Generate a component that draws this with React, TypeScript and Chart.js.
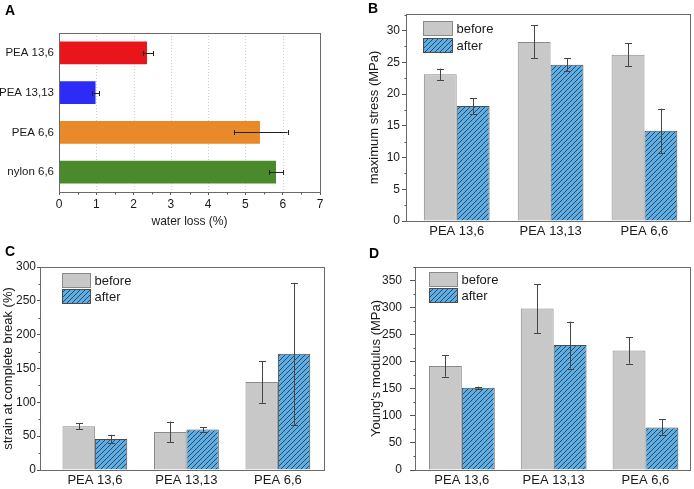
import React, { useEffect, useRef } from 'react';
import { Chart, registerables } from 'chart.js';

Chart.register(...registerables);

const FONT = "'Liberation Sans', Arial, Helvetica, sans-serif";
const TEXT = '#1a1a1a';
const FRAME = '#6a6a6a';
const TICK = '#555555';

// ---- Panel A: water loss ----
const waterLabels = ['PEA 13,6', 'PEA 13,13', 'PEA 6,6', 'nylon 6,6'];
const waterLoss = [2.36, 0.98, 5.39, 5.82];
const waterLow = [2.25, 0.89, 4.69, 5.63];
const waterHigh = [2.52, 1.07, 6.13, 6.02];
const waterColors = ['#e8161b', '#2c2cf6', '#e8892a', '#4b8a2a'];
const waterGridValues = [1, 2, 3, 4, 5, 6];

// ---- Panels B-D: before / after ----
const groups = ['PEA 13,6', 'PEA 13,13', 'PEA 6,6'];
const groupPos = [1, 2, 3];
const seriesNames = ['before', 'after'];

const stressBefore = [23.1, 28.2, 26.2];
const stressBeforeErr = [0.9, 2.6, 1.8];
const stressAfter = [18.1, 24.6, 14.2];
const stressAfterErr = [1.2, 1.0, 3.5];

const strainBefore = [64.6, 56.2, 130.2];
const strainBeforeErr = [4.2, 15.3, 31];
const strainAfter = [45.9, 59.7, 171.7];
const strainAfterErr = [6.1, 3.2, 105];

const modBefore = [192, 298.3, 220.8];
const modBeforeErr = [19.7, 45.2, 24.3];
const modAfter = [151.9, 230.7, 78.7];
const modAfterErr = [2, 43.4, 14.8];

const BEFORE_FILL = '#c8c8c8';
const BEFORE_EDGE = '#8a8a8a';
const HATCH_BG = '#5eaee6';
const HATCH_LINE = '#2a3a4c';
const AFTER_EDGE = '#4a4a4a';

function makeHatch(): CanvasPattern | string {
  const s = 5;
  const c = document.createElement('canvas');
  c.width = s;
  c.height = s;
  const g = c.getContext('2d');
  if (!g) return HATCH_BG;
  g.fillStyle = HATCH_BG;
  g.fillRect(0, 0, s, s);
  g.strokeStyle = HATCH_LINE;
  g.lineWidth = 0.9;
  g.beginPath();
  g.moveTo(0, s);
  g.lineTo(s, 0);
  g.moveTo(-1, 1);
  g.lineTo(1, -1);
  g.moveTo(s - 1, s + 1);
  g.lineTo(s + 1, s - 1);
  g.stroke();
  return g.createPattern(c, 'repeat') || HATCH_BG;
}

type Decor = {
  vgrid?: number[];
  minor?: { axis: 'x' | 'y'; step: number; min: number; max: number; major: number; len: number };
  legend?: { dx: number; dy: number; w: number; h: number; gap: number; font: number };
  errAxis: 'x' | 'y';
  errColor: string;
  cap: number;
};

function makeDecor(d: Decor) {
  return {
    id: 'decor',
    beforeDatasetsDraw(chart: any) {
      if (!d.vgrid) return;
      const { ctx, chartArea: a } = chart;
      const xs = chart.scales.x;
      ctx.save();
      ctx.strokeStyle = 'rgba(205,190,190,0.75)';
      ctx.lineWidth = 1;
      ctx.setLineDash([1, 2]);
      d.vgrid.forEach((v) => {
        const px = Math.round(xs.getPixelForValue(v)) + 0.5;
        ctx.beginPath();
        ctx.moveTo(px, a.top);
        ctx.lineTo(px, a.bottom);
        ctx.stroke();
      });
      ctx.restore();
    },
    afterDatasetsDraw(chart: any) {
      const { ctx, chartArea: a } = chart;
      ctx.save();
      ctx.setLineDash([]);
      // error bars
      chart.data.datasets.forEach((ds: any, di: number) => {
        const meta = chart.getDatasetMeta(di);
        const lo: number[] = ds.errLow;
        const hi: number[] = ds.errHigh;
        if (!lo || !hi) return;
        ctx.strokeStyle = d.errColor;
        ctx.lineWidth = 1;
        meta.data.forEach((el: any, i: number) => {
          if (d.errAxis === 'y') {
            const ys = chart.scales.y;
            const x = Math.round(el.x) + 0.5;
            const y1 = ys.getPixelForValue(lo[i]);
            const y2 = ys.getPixelForValue(hi[i]);
            ctx.beginPath();
            ctx.moveTo(x, y1);
            ctx.lineTo(x, y2);
            ctx.moveTo(x - d.cap, Math.round(y1) + 0.5);
            ctx.lineTo(x + d.cap, Math.round(y1) + 0.5);
            ctx.moveTo(x - d.cap, Math.round(y2) + 0.5);
            ctx.lineTo(x + d.cap, Math.round(y2) + 0.5);
            ctx.stroke();
          } else {
            const xs = chart.scales.x;
            const y = Math.round(el.y) + 0.5;
            const x1 = xs.getPixelForValue(lo[i]);
            const x2 = xs.getPixelForValue(hi[i]);
            ctx.beginPath();
            ctx.moveTo(x1, y);
            ctx.lineTo(x2, y);
            ctx.moveTo(Math.round(x1) + 0.5, y - d.cap);
            ctx.lineTo(Math.round(x1) + 0.5, y + d.cap);
            ctx.moveTo(Math.round(x2) + 0.5, y - d.cap);
            ctx.lineTo(Math.round(x2) + 0.5, y + d.cap);
            ctx.stroke();
          }
        });
      });
      // frame
      const L = Math.round(a.left) + 0.5;
      const T = Math.round(a.top) + 0.5;
      const R = Math.round(a.right) + 0.5;
      const B = Math.round(a.bottom) + 0.5;
      ctx.strokeStyle = FRAME;
      ctx.lineWidth = 1;
      ctx.strokeRect(L, T, R - L, B - T);
      // minor ticks
      if (d.minor) {
        const m = d.minor;
        const sc = chart.scales[m.axis];
        ctx.strokeStyle = TICK;
        ctx.beginPath();
        for (let v = m.min; v <= m.max + 1e-9; v += m.step) {
          const r = v / m.major;
          if (Math.abs(r - Math.round(r)) < 1e-6) continue;
          const p = Math.round(sc.getPixelForValue(v)) + 0.5;
          if (m.axis === 'y') {
            ctx.moveTo(L - m.len, p);
            ctx.lineTo(L, p);
          } else {
            ctx.moveTo(p, B);
            ctx.lineTo(p, B + m.len);
          }
        }
        ctx.stroke();
      }
      // legend
      if (d.legend) {
        const lg = d.legend;
        chart.data.datasets.forEach((ds: any, di: number) => {
          const x = Math.round(a.left + lg.dx) + 0.5;
          const y = Math.round(a.top + lg.dy + di * lg.gap) + 0.5;
          ctx.fillStyle = ds.backgroundColor;
          ctx.fillRect(x, y, lg.w, lg.h);
          ctx.strokeStyle = ds.borderColor;
          ctx.lineWidth = 1;
          ctx.strokeRect(x, y, lg.w, lg.h);
          ctx.fillStyle = TEXT;
          ctx.font = `${lg.font}px ${FONT}`;
          ctx.textBaseline = 'middle';
          ctx.textAlign = 'left';
          ctx.fillText(ds.label, x + lg.w + 4, y + lg.h / 2 + 0.5);
        });
      }
      ctx.restore();
    },
  };
}

type GroupedSpec = {
  yTitle: string;
  before: number[];
  beforeErr: number[];
  after: number[];
  afterErr: number[];
  yMax: number;
  yStep: number;
  minorStep: number;
  xMin: number;
  xMax: number;
  catPct: number;
  pad: { left: number; top: number; right: number; bottom: number };
  yWidth: number;
  xHeight: number;
  tickLen: number;
  tickPad: number;
  titlePadTop: number;
  legend: { dx: number; dy: number; w: number; h: number; gap: number; font: number };
};

function groupedConfig(s: GroupedSpec, hatch: CanvasPattern | string): any {
  const pts = (vals: number[]) => groupPos.map((x, i) => ({ x, y: vals[i] }));
  return {
    type: 'bar',
    data: {
      datasets: [
        {
          label: seriesNames[0],
          data: pts(s.before),
          backgroundColor: BEFORE_FILL,
          borderColor: BEFORE_EDGE,
          borderWidth: 1,
          errLow: s.before.map((v, i) => v - s.beforeErr[i]),
          errHigh: s.before.map((v, i) => v + s.beforeErr[i]),
        },
        {
          label: seriesNames[1],
          data: pts(s.after),
          backgroundColor: hatch,
          borderColor: AFTER_EDGE,
          borderWidth: 1,
          errLow: s.after.map((v, i) => v - s.afterErr[i]),
          errHigh: s.after.map((v, i) => v + s.afterErr[i]),
        },
      ],
    },
    options: {
      animation: false,
      responsive: false,
      devicePixelRatio: 1,
      layout: { padding: s.pad },
      datasets: { bar: { categoryPercentage: s.catPct, barPercentage: 1 } },
      plugins: { legend: { display: false }, tooltip: { enabled: false }, title: { display: false } },
      scales: {
        x: {
          type: 'linear',
          min: s.xMin,
          max: s.xMax,
          offset: false,
          afterBuildTicks: (sc: any) => {
            sc.ticks = groupPos.map((v) => ({ value: v }));
          },
          afterFit: (sc: any) => {
            sc.height = s.xHeight;
          },
          ticks: {
            autoSkip: false,
            maxRotation: 0,
            padding: 3,
            color: TEXT,
            font: { size: 13, family: FONT },
            callback: (v: number) => groups[groupPos.indexOf(Math.round(v))] ?? '',
          },
          grid: { display: false, drawTicks: false },
          border: { display: false },
        },
        y: {
          type: 'linear',
          min: 0,
          max: s.yMax,
          afterFit: (sc: any) => {
            sc.width = s.yWidth;
          },
          ticks: {
            stepSize: s.yStep,
            includeBounds: false,
            padding: s.tickPad,
            color: TEXT,
            font: { size: 12, family: FONT },
          },
          grid: { drawOnChartArea: false, drawTicks: true, tickLength: s.tickLen, tickColor: TICK, color: TICK },
          border: { display: false },
          title: {
            display: true,
            text: s.yTitle,
            color: TEXT,
            font: { size: 13, family: FONT },
            padding: { top: s.titlePadTop, bottom: 0 },
          },
        },
      },
    },
    plugins: [
      makeDecor({
        errAxis: 'y',
        errColor: '#454545',
        cap: 3.5,
        minor: { axis: 'y', step: s.minorStep, min: 0, max: s.yMax, major: s.yStep, len: 2 },
        legend: s.legend,
      }),
    ],
  };
}

function waterConfig(): any {
  return {
    type: 'bar',
    data: {
      labels: waterLabels,
      datasets: [
        {
          label: 'water loss',
          data: waterLoss,
          backgroundColor: waterColors,
          borderWidth: 0,
          errLow: waterLow,
          errHigh: waterHigh,
        },
      ],
    },
    options: {
      indexAxis: 'y',
      animation: false,
      responsive: false,
      devicePixelRatio: 1,
      layout: { padding: { left: 0, top: 33, right: 27, bottom: 7 } },
      datasets: { bar: { categoryPercentage: 1, barPercentage: 0.57 } },
      plugins: { legend: { display: false }, tooltip: { enabled: false } },
      scales: {
        y: {
          type: 'category',
          afterFit: (sc: any) => {
            sc.width = 59;
          },
          ticks: { padding: 5, color: TEXT, font: { size: 11.5, family: FONT } },
          grid: { display: false, drawTicks: false },
          border: { display: false },
        },
        x: {
          type: 'linear',
          min: 0,
          max: 7,
          afterFit: (sc: any) => {
            sc.height = 41;
          },
          ticks: { stepSize: 1, padding: 2, color: TEXT, font: { size: 12, family: FONT }, maxRotation: 0 },
          grid: { drawOnChartArea: false, drawTicks: true, tickLength: 3, tickColor: TICK, color: TICK },
          border: { display: false },
          title: {
            display: true,
            text: 'water loss (%)',
            color: TEXT,
            font: { size: 12, family: FONT },
            padding: { top: 4, bottom: 4 },
          },
        },
      },
    },
    plugins: [
      makeDecor({
        vgrid: waterGridValues,
        errAxis: 'x',
        errColor: '#222222',
        cap: 2.5,
        minor: { axis: 'x', step: 0.5, min: 0, max: 7, major: 1, len: 2 },
      }),
    ],
  };
}

const stressSpec: GroupedSpec = {
  yTitle: 'maximum stress (MPa)',
  before: stressBefore,
  beforeErr: stressBeforeErr,
  after: stressAfter,
  afterErr: stressAfterErr,
  yMax: 32.6,
  yStep: 5,
  minorStep: 2.5,
  xMin: 0.46,
  xMax: 3.485,
  catPct: 0.7,
  pad: { left: 16, top: 14, right: 4, bottom: 0 },
  yWidth: 43,
  xHeight: 19,
  tickLen: 4,
  tickPad: 2,
  titlePadTop: 4,
  legend: { dx: 17, dy: 7, w: 29, h: 14, gap: 17, font: 13 },
};

const strainSpec: GroupedSpec = {
  yTitle: 'strain at complete break (%)',
  before: strainBefore,
  beforeErr: strainBeforeErr,
  after: strainAfter,
  afterErr: strainAfterErr,
  yMax: 300,
  yStep: 50,
  minorStep: 25,
  xMin: 0.4,
  xMax: 3.504,
  catPct: 0.708,
  pad: { left: 0, top: 27, right: 23, bottom: 0 },
  yWidth: 40,
  xHeight: 19,
  tickLen: 3,
  tickPad: 1,
  titlePadTop: 1,
  legend: { dx: 22, dy: 6, w: 28, h: 14, gap: 16, font: 13 },
};

const modSpec: GroupedSpec = {
  yTitle: "Young's modulus (MPa)",
  before: modBefore,
  beforeErr: modBeforeErr,
  after: modAfter,
  afterErr: modAfterErr,
  yMax: 375,
  yStep: 50,
  minorStep: 25,
  xMin: 0.49,
  xMax: 3.485,
  catPct: 0.716,
  pad: { left: 18, top: 27, right: 4, bottom: 0 },
  yWidth: 50,
  xHeight: 19,
  tickLen: 5,
  tickPad: 8,
  titlePadTop: 4,
  legend: { dx: 14, dy: 5, w: 28, h: 14, gap: 16, font: 13 },
};

const panelLetter: React.CSSProperties = {
  position: 'absolute',
  fontFamily: FONT,
  fontWeight: 'bold',
  fontSize: 14,
  lineHeight: '16px',
  color: '#000',
};

export default function App() {
  const refA = useRef<HTMLCanvasElement>(null);
  const refB = useRef<HTMLCanvasElement>(null);
  const refC = useRef<HTMLCanvasElement>(null);
  const refD = useRef<HTMLCanvasElement>(null);

  useEffect(() => {
    Chart.defaults.font.family = FONT;
    Chart.defaults.color = TEXT;
    const hatch = makeHatch();
    const charts: Chart[] = [];
    if (refA.current) charts.push(new Chart(refA.current, waterConfig()));
    if (refB.current) charts.push(new Chart(refB.current, groupedConfig(stressSpec, hatch)));
    if (refC.current) charts.push(new Chart(refC.current, groupedConfig(strainSpec, hatch)));
    if (refD.current) charts.push(new Chart(refD.current, groupedConfig(modSpec, hatch)));
    return () => charts.forEach((c) => c.destroy());
  }, []);

  const cv = (left: number, top: number, w: number, h: number): React.CSSProperties => ({
    position: 'absolute',
    left,
    top,
    width: w,
    height: h,
  });

  return (
    <div style={{ position: 'absolute', left: 0, top: 0, width: 694, height: 489, background: '#fff', overflow: 'hidden' }}>
      <canvas ref={refA} width={347} height={240} style={cv(0, 0, 347, 240)} />
      <canvas ref={refB} width={347} height={240} style={cv(347, 0, 347, 240)} />
      <canvas ref={refC} width={347} height={249} style={cv(0, 240, 347, 249)} />
      <canvas ref={refD} width={347} height={249} style={cv(347, 240, 347, 249)} />
      <div style={{ ...panelLetter, left: 5, top: 2 }}>A</div>
      <div style={{ ...panelLetter, left: 368, top: 0 }}>B</div>
      <div style={{ ...panelLetter, left: 5, top: 243 }}>C</div>
      <div style={{ ...panelLetter, left: 369, top: 245 }}>D</div>
    </div>
  );
}
